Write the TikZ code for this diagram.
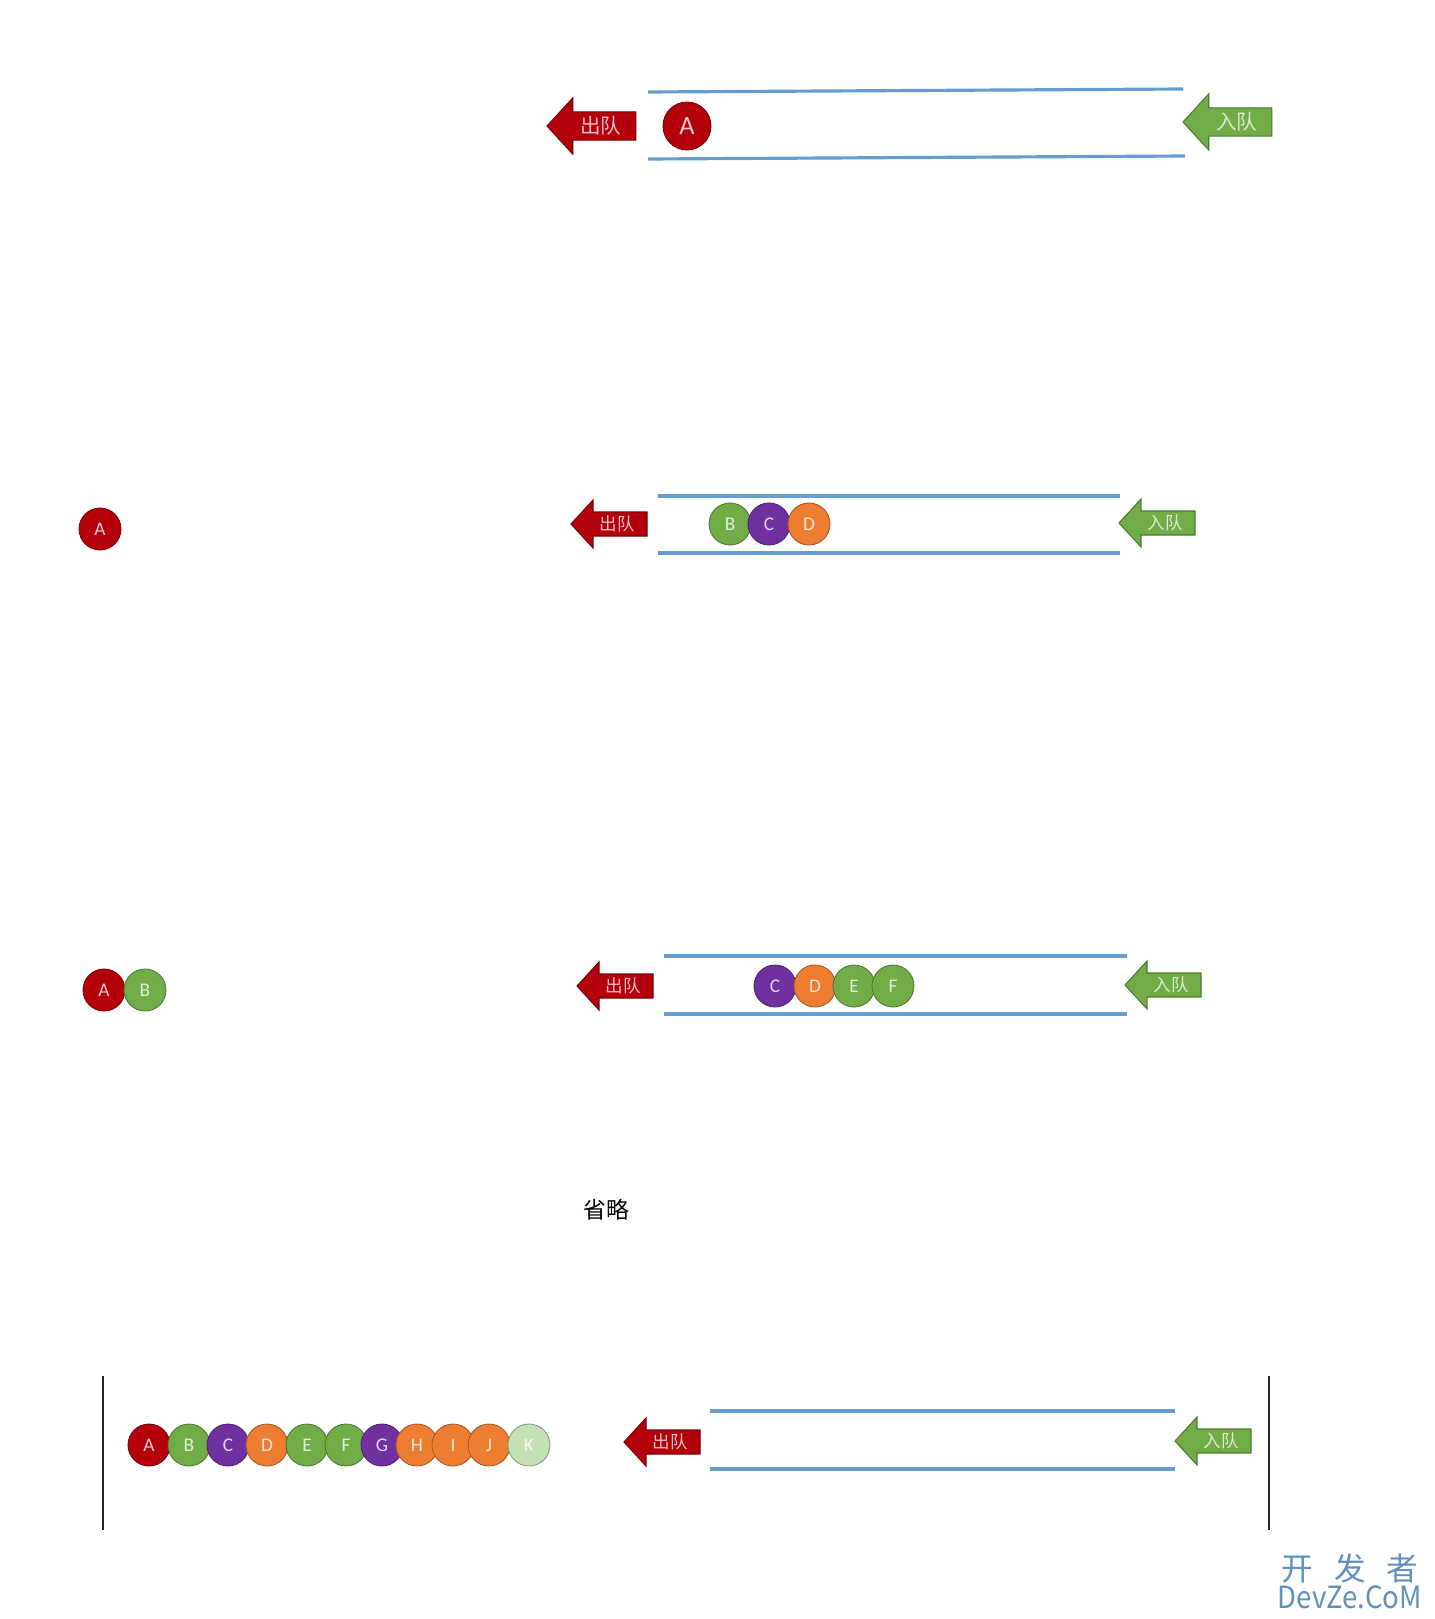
\documentclass[tikz,border=0pt]{standalone}
\usepackage{fontspec}
\setsansfont{Carlito}
\newfontfamily\cjkfont{Noto Sans CJK SC}

\definecolor{qred}{RGB}{180,0,10}
\definecolor{qgreen}{RGB}{112,173,71}
\definecolor{qpurple}{RGB}{112,48,160}
\definecolor{qorange}{RGB}{237,125,49}
\definecolor{qpale}{RGB}{197,224,180}
\definecolor{qblue}{RGB}{100,158,208}
\definecolor{qmark}{RGB}{95,145,190}

\tikzset{
  ball/.style={circle, fill=#1, draw=#1!70!black, line width=0.5pt,
    text=white, text opacity=0.8, inner sep=0pt, minimum size=0.84cm,
    font=\sffamily\fontsize{11}{11}\selectfont},
  wall/.style={qblue, line width=1.8pt},
  arrowtext/.style={text=white, text opacity=0.75, inner sep=0pt,
    font=\cjkfont\fontsize{10}{10}\selectfont}
}

% arrow: name, colour, text, tip x, tip y, size
\newcommand{\qarrow}[6]{%
  \begin{scope}[shift={(#4,#5)}, scale=#6]
    \draw[#2!70!black, fill=#2, line width=0.6pt]
      (0,0) -- (22,-24) -- (22,-12) -- (76,-12) -- (76,12) -- (22,12) -- (22,24) -- cycle;
    \node[arrowtext] (#1) at (46,0) {\scalebox{#6}{#3}};
  \end{scope}}

\begin{document}
\begin{tikzpicture}[x=0.02cm, y=-0.02cm]

    % page
    \useasboundingbox (0,0) rectangle (1434,1619);

    % Row 1
    \draw[wall] (648,92) -- (1183,89);
    \draw[wall] (648,159) -- (1185,156);
    \qarrow{out1}{qred}{出队}{547}{126}{1.17}
    \qarrow{in1}{qgreen}{入队}{1183}{122}{1.17}
    \node[ball=qred, minimum size=0.96cm, font=\sffamily\fontsize{15}{15}\selectfont] (a1) at (687,126) {A};

    % Row 2
    \node[ball=qred] (a2) at (100,529) {A};
    \draw[wall] (658,496) -- (1120,496);
    \draw[wall] (658,553) -- (1120,553);
    \qarrow{out2}{qred}{出队}{571}{524}{1}
    \qarrow{in2}{qgreen}{入队}{1119}{523}{1}
    \foreach \n/\c/\x in {B/qgreen/730, C/qpurple/769, D/qorange/809}
        \node[ball=\c] (b\n) at (\x,524) {\n};

    % Row 3
    \node[ball=qred] (a3) at (104,990) {A};
    \node[ball=qgreen] (b3) at (145,990) {B};
    \draw[wall] (664,956) -- (1127,956);
    \draw[wall] (664,1014) -- (1127,1014);
    \qarrow{out3}{qred}{出队}{577}{986}{1}
    \qarrow{in3}{qgreen}{入队}{1125}{985}{1}
    \foreach \n/\c/\x in {C/qpurple/775, D/qorange/815, E/qgreen/854, F/qgreen/893}
        \node[ball=\c] (c\n) at (\x,986) {\n};

    % skipped
    \node[font=\cjkfont\fontsize{13}{13}\selectfont] (skip) at (606,1210) {省略};

    % Row 4
    \draw[black!85, line width=1.6pt] (103,1376) -- (103,1530);
    \draw[black!85, line width=1.6pt] (1269,1376) -- (1269,1530);
    \foreach \n/\c/\x in {A/qred/149, B/qgreen/189, C/qpurple/228, D/qorange/267,
        E/qgreen/307, F/qgreen/346, G/qpurple/382, H/qorange/417, I/qorange/453,
        J/qorange/489, K/qpale/529}
        \node[ball=\c] (d\n) at (\x,1445) {\n};
    \draw[wall] (710,1411) -- (1175,1411);
    \draw[wall] (710,1469) -- (1175,1469);
    \qarrow{out4}{qred}{出队}{624}{1442}{1}
    \qarrow{in4}{qgreen}{入队}{1175}{1441}{1}

    % mark
    \node[qmark, font=\cjkfont\fontsize{18}{18}\selectfont] (mark) at (1350,1568)
        {开\hspace{12pt}发\hspace{12pt}者};
    \node[qmark, font=\cjkfont] (site) at (1350,1597) {\resizebox{82pt}{13pt}{DevZe.CoM}};

\end{tikzpicture}
\end{document}
